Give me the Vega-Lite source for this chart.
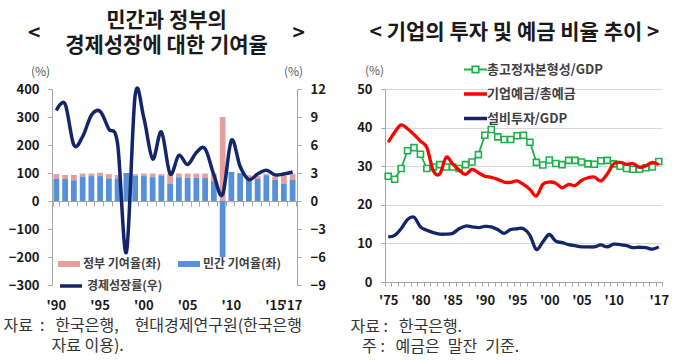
{
  "$schema": "https://vega.github.io/schema/vega-lite/v6.json",
  "background": "white",
  "padding": {"left": 3, "top": 9, "right": 0, "bottom": 0},
  "spacing": 24,
  "resolve": {"scale": {"stroke": "independent", "color": "independent"}, "legend": {"stroke": "independent", "color": "independent"}},
  "config": {
    "font": "Noto Sans CJK KR",
    "view": {"stroke": null},
    "title": {"font": "Noto Sans CJK KR", "fontSize": 21, "fontWeight": "bold", "color": "#1a1a1a", "lineHeight": 12.5, "anchor": "middle", "frame": "group"},
    "axis": {"labelFont": "Noto Sans CJK KR", "labelFontWeight": "bold", "labelFontSize": 13, "labelColor": "#1a1a1a", "domainColor": "#a6a6a6", "tickColor": "#a6a6a6", "grid": false, "titleFont": "Noto Sans CJK KR"},
    "legend": {"labelFont": "Noto Sans CJK KR", "labelFontWeight": "bold", "labelColor": "#404040", "labelFontSize": 12, "padding": 0}
  },
  "hconcat": [
    {
      "width": 245,
      "height": 196,
      "title": {"text": ["민간과 정부의", "<　　　　　　　　　　　　>", "경제성장에 대한 기여율"], "dx": -8, "offset": 9},
      "data": {"values": [
        {"year": 1990, "priv": 79, "gov": 17, "growth": 9.7},
        {"year": 1991, "priv": 79, "gov": 14, "growth": 10.4},
        {"year": 1992, "priv": 74, "gov": 19, "growth": 6.0},
        {"year": 1993, "priv": 87, "gov": 11, "growth": 6.9},
        {"year": 1994, "priv": 89, "gov": 9, "growth": 9.2},
        {"year": 1995, "priv": 89, "gov": 12, "growth": 9.6},
        {"year": 1996, "priv": 80, "gov": 16, "growth": 7.7},
        {"year": 1997, "priv": 80, "gov": 13, "growth": 6.1},
        {"year": 1998, "priv": 100, "gov": 0, "growth": -5.5},
        {"year": 1999, "priv": 90, "gov": 6, "growth": 11.3},
        {"year": 2000, "priv": 89, "gov": 9, "growth": 8.9},
        {"year": 2001, "priv": 85, "gov": 13, "growth": 4.5},
        {"year": 2002, "priv": 90, "gov": 6, "growth": 7.4},
        {"year": 2003, "priv": 62, "gov": 35, "growth": 2.9},
        {"year": 2004, "priv": 85, "gov": 13, "growth": 4.9},
        {"year": 2005, "priv": 82, "gov": 16, "growth": 3.9},
        {"year": 2006, "priv": 82, "gov": 16, "growth": 5.2},
        {"year": 2007, "priv": 82, "gov": 16, "growth": 5.6},
        {"year": 2008, "priv": 71, "gov": 27, "growth": 2.8},
        {"year": 2009, "priv": -200, "gov": 300, "growth": 0.7},
        {"year": 2010, "priv": 104, "gov": -5, "growth": 6.5},
        {"year": 2011, "priv": 99, "gov": 1, "growth": 3.7},
        {"year": 2012, "priv": 75, "gov": 17, "growth": 2.3},
        {"year": 2013, "priv": 79, "gov": 10, "growth": 2.9},
        {"year": 2014, "priv": 92, "gov": 5, "growth": 3.3},
        {"year": 2015, "priv": 75, "gov": 13, "growth": 2.8},
        {"year": 2016, "priv": 62, "gov": 28, "growth": 2.9},
        {"year": 2017, "priv": 75, "gov": 22, "growth": 3.1}
      ]},
      "layer": [
        {
          "transform": [{"fold": ["gov", "priv"], "as": ["series", "value"]}],
          "mark": {"type": "bar"},
          "encoding": {
            "x": {
              "field": "year", "type": "ordinal",
              "scale": {"paddingInner": 0.34, "paddingOuter": 0.17},
              "axis": {
                "labelExpr": "(datum.value % 5 == 0 || datum.value == 2017) ? \"'\" + slice(datum.label, 2) : ''",
                "labelAngle": 0, "labelOverlap": false, "ticks": false, "domain": false, "labelPadding": 14,
                "title": ["자료\u00a0\u00a0:\u00a0\u00a0\u00a0한국은행,\u2002\u2002현대경제연구원(한국은행", "\u200b\u3000\u3000\u3000자료 이용)."],
                "titleFontSize": 16, "titleFontWeight": "normal", "titleColor": "#333333",
                "titleAlign": "left", "titleAnchor": "start", "titleBaseline": "top", "titleLineHeight": 20,
                "titleX": -49, "titleY": 32
              }
            },
            "y": {
              "field": "value", "type": "quantitative", "stack": "zero",
              "scale": {"domain": [-300, 400], "nice": false},
              "axis": {
                "values": [-300, -200, -100, 0, 100, 200, 300, 400], "tickSize": 4, "labelPadding": 9,
                "title": "(%)", "titleAngle": 0, "titleAlign": "center", "titleBaseline": "middle",
                "titleX": -12, "titleY": -18, "titleFontSize": 12, "titleFontWeight": "normal", "titleColor": "#595959"
              }
            },
            "color": {
              "field": "series", "type": "nominal",
              "scale": {"domain": ["gov", "priv"], "range": ["#e3a09e", "#5590d8"]},
              "legend": {
                "title": null, "orient": "none", "legendX": 6, "legendY": 164, "direction": "horizontal", "columns": 2,
                "columnPadding": 16, "labelOffset": 3, "symbolType": "M-1,-0.27H1V0.27H-1Z", "symbolSize": 484, "symbolStrokeWidth": 0,
                "labelExpr": "datum.label == 'gov' ? '정부 기여율(좌)' : '민간 기여율(좌)'"
              }
            },
            "order": {"field": "series", "sort": "descending"}
          }
        },
        {
          "mark": {"type": "line", "interpolate": "cardinal", "strokeWidth": 3.5},
          "encoding": {
            "x": {
              "field": "year", "type": "ordinal",
              "axis": {"orient": "bottom", "offset": -84, "labels": false, "ticks": true, "tickBand": "extent", "tickSize": 5, "domain": true, "title": null}
            },
            "y": {
              "field": "growth", "type": "quantitative",
              "scale": {"domain": [-9, 12], "nice": false},
              "axis": {
                "orient": "right", "values": [-9, -6, -3, 0, 3, 6, 9, 12], "tickSize": 4, "labelPadding": 9,
                "title": "(%)", "titleAngle": 0, "titleAlign": "center", "titleBaseline": "middle",
                "titleX": -4, "titleY": -18, "titleFontSize": 12, "titleFontWeight": "normal", "titleColor": "#595959"
              }
            },
            "stroke": {
              "datum": "경제성장률(우)", "type": "nominal",
              "scale": {"range": ["#14266a"]},
              "legend": {"title": null, "orient": "none", "legendX": 6, "legendY": 184, "symbolType": "stroke", "symbolSize": 484, "symbolStrokeWidth": 3.5, "labelOffset": 3}
            }
          }
        }
      ],
      "resolve": {"scale": {"y": "independent"}, "axis": {"x": "independent"}}
    },
    {
      "width": 277,
      "height": 193,
      "title": {"text": ["\u200b", "< 기업의 투자 및 예금 비율 추이 >", "\u200b"], "dx": -9, "offset": 8},
      "data": {"values": [
        {"year": 1975, "gfcf": 27.4, "dep": 36.2, "inv": 11.7},
        {"year": 1976, "gfcf": 26.6, "dep": 38.8, "inv": 12.1},
        {"year": 1977, "gfcf": 29.4, "dep": 40.7, "inv": 13.8},
        {"year": 1978, "gfcf": 34.0, "dep": 39.7, "inv": 16.2},
        {"year": 1979, "gfcf": 34.8, "dep": 38.2, "inv": 16.8},
        {"year": 1980, "gfcf": 33.1, "dep": 36.5, "inv": 14.3},
        {"year": 1981, "gfcf": 29.4, "dep": 34.8, "inv": 13.4},
        {"year": 1982, "gfcf": 29.8, "dep": 28.8, "inv": 12.8},
        {"year": 1983, "gfcf": 30.4, "dep": 28.0, "inv": 12.4},
        {"year": 1984, "gfcf": 29.8, "dep": 32.3, "inv": 12.4},
        {"year": 1985, "gfcf": 29.8, "dep": 30.6, "inv": 12.6},
        {"year": 1986, "gfcf": 29.4, "dep": 29.0, "inv": 13.8},
        {"year": 1987, "gfcf": 30.4, "dep": 27.9, "inv": 14.5},
        {"year": 1988, "gfcf": 31.1, "dep": 29.2, "inv": 14.3},
        {"year": 1989, "gfcf": 33.0, "dep": 28.3, "inv": 14.1},
        {"year": 1990, "gfcf": 38.0, "dep": 27.4, "inv": 14.4},
        {"year": 1991, "gfcf": 39.5, "dep": 27.1, "inv": 14.3},
        {"year": 1992, "gfcf": 37.6, "dep": 26.6, "inv": 13.6},
        {"year": 1993, "gfcf": 36.9, "dep": 25.9, "inv": 12.6},
        {"year": 1994, "gfcf": 36.9, "dep": 25.8, "inv": 13.6},
        {"year": 1995, "gfcf": 37.9, "dep": 26.2, "inv": 13.8},
        {"year": 1996, "gfcf": 38.0, "dep": 25.3, "inv": 13.8},
        {"year": 1997, "gfcf": 36.2, "dep": 24.0, "inv": 12.1},
        {"year": 1998, "gfcf": 31.0, "dep": 22.3, "inv": 8.4},
        {"year": 1999, "gfcf": 30.3, "dep": 25.3, "inv": 10.4},
        {"year": 2000, "gfcf": 31.6, "dep": 25.9, "inv": 12.3},
        {"year": 2001, "gfcf": 30.7, "dep": 25.6, "inv": 10.6},
        {"year": 2002, "gfcf": 30.4, "dep": 24.4, "inv": 10.2},
        {"year": 2003, "gfcf": 31.5, "dep": 25.3, "inv": 9.7},
        {"year": 2004, "gfcf": 31.5, "dep": 25.0, "inv": 9.4},
        {"year": 2005, "gfcf": 31.1, "dep": 26.3, "inv": 9.1},
        {"year": 2006, "gfcf": 30.6, "dep": 27.0, "inv": 9.1},
        {"year": 2007, "gfcf": 30.5, "dep": 27.2, "inv": 9.1},
        {"year": 2008, "gfcf": 31.4, "dep": 26.2, "inv": 9.6},
        {"year": 2009, "gfcf": 31.5, "dep": 28.0, "inv": 9.1},
        {"year": 2010, "gfcf": 30.6, "dep": 30.6, "inv": 9.8},
        {"year": 2011, "gfcf": 30.0, "dep": 31.0, "inv": 9.7},
        {"year": 2012, "gfcf": 29.4, "dep": 30.5, "inv": 9.4},
        {"year": 2013, "gfcf": 29.2, "dep": 30.7, "inv": 8.9},
        {"year": 2014, "gfcf": 29.2, "dep": 29.7, "inv": 9.0},
        {"year": 2015, "gfcf": 29.6, "dep": 30.1, "inv": 8.9},
        {"year": 2016, "gfcf": 29.8, "dep": 31.0, "inv": 8.5},
        {"year": 2017, "gfcf": 31.2, "dep": 30.4, "inv": 9.1}
      ]},
      "transform": [{"fold": ["gfcf", "dep", "inv"], "as": ["series", "value"]}],
      "encoding": {
        "x": {
          "field": "year", "type": "ordinal", "bandPosition": 0.5,
          "scale": {"type": "band", "paddingInner": 0, "paddingOuter": 0},
          "axis": {
            "labelExpr": "((datum.value % 5 == 0 && datum.value != 2015) || datum.value == 2017) ? \"'\" + slice(datum.label, 2) : ''",
            "labelAngle": 0, "labelOverlap": false, "tickBand": "extent", "tickSize": 4, "labelPadding": 8,
            "title": ["자료\u00a0:\u00a0\u00a0\u00a0한국은행.", "\u200b\u2002\u00a0주\u00a0:\u00a0\u00a0\u00a0예금은\u2002말잔\u2002기준."],
            "titleFontSize": 16, "titleFontWeight": "normal", "titleColor": "#333333",
            "titleAlign": "left", "titleAnchor": "start", "titleBaseline": "top", "titleLineHeight": 20,
            "titleX": -35, "titleY": 36
          }
        },
        "y": {
          "field": "value", "type": "quantitative",
          "scale": {"domain": [0, 50], "nice": false},
          "axis": {
            "values": [0, 10, 20, 30, 40, 50], "grid": true, "gridColor": "#d9d9d9", "tickSize": 4, "labelPadding": 9,
            "title": "(%)", "titleAngle": 0, "titleAlign": "center", "titleBaseline": "middle",
            "titleX": -11, "titleY": -19, "titleFontSize": 12, "titleFontWeight": "normal", "titleColor": "#595959"
          }
        },
        "stroke": {
          "field": "series", "type": "nominal",
          "scale": {"domain": ["gfcf", "dep", "inv"], "range": ["#1db14b", "#ff0000", "#14266a"]},
          "legend": {
            "title": null, "orient": "none", "legendX": 84, "legendY": -26, "direction": "vertical",
            "rowPadding": 9.5, "labelOffset": 5, "labelFontSize": 13, "symbolSize": 529, "symbolStrokeWidth": 3.5,
            "labelExpr": "datum.label == 'gfcf' ? '총고정자본형성/GDP' : (datum.label == 'dep' ? '기업예금/총예금' : '설비투자/GDP')",
            "encode": {"symbols": {"update": {
              "shape": {"signal": "datum.value == 'gfcf' ? 'M-1,0H-0.28M0.28,0H1M-0.28,-0.28H0.28V0.28H-0.28Z' : 'M-1,0H1'"},
              "strokeWidth": {"signal": "datum.value == 'gfcf' ? 1.8 : 3.5"},
              "fill": {"value": "white"}
            }}}
          }
        }
      },
      "layer": [
        {
          "transform": [{"filter": "datum.series == 'gfcf'"}],
          "mark": {"type": "line", "strokeWidth": 1.8, "point": {"shape": "square", "filled": false, "fill": "white", "size": 36, "strokeWidth": 1.6}}
        },
        {
          "transform": [{"filter": "datum.series != 'gfcf'"}],
          "mark": {"type": "line", "interpolate": "cardinal", "strokeWidth": 3.3}
        }
      ]
    }
  ]
}
